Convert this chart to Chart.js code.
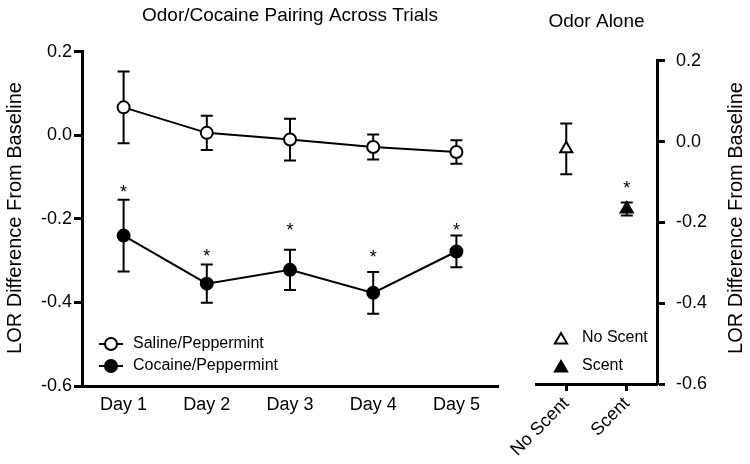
<!DOCTYPE html>
<html>
<head>
<meta charset="utf-8">
<script src="https://cdn.jsdelivr.net/npm/chart.js@4/dist/chart.umd.min.js"></script>
<style>
  body { margin: 0; background: #fff; }
  #wrap { position: relative; width: 750px; height: 464px; }
  .box { position: absolute; top: 0; height: 464px; }
</style>
</head>
<body>
<div id="wrap">
  <div class="box" style="left:0;width:520px"><canvas id="trialsChart" width="520" height="464"></canvas></div>
  <div class="box" style="left:500px;width:250px"><canvas id="odorChart" width="250" height="464"></canvas></div>
</div>
<script>
Chart.defaults.font.family = "'Liberation Sans', Arial, Helvetica, sans-serif";
Chart.defaults.color = '#000';

// data
const days = ['Day 1', 'Day 2', 'Day 3', 'Day 4', 'Day 5'];
const salineMean = [0.067, 0.006, -0.010, -0.028, -0.040];
const salineSem = [0.086, 0.041, 0.050, 0.030, 0.028];
const cocaineMean = [-0.240, -0.355, -0.322, -0.377, -0.278];
const cocaineSem = [0.086, 0.046, 0.048, 0.050, 0.038];
const cocaineStars = [-0.125, -0.280, -0.218, -0.281, -0.217];

const odorGroups = ['No Scent', 'Scent'];
const odorMean = [-0.018, -0.167];
const odorSem = [0.063, 0.016];
const odorStars = [null, -0.104];

const yTicks = [-0.6, -0.4, -0.2, 0.0, 0.2];

function tickLabel(v) {
    return Math.abs(v) < 1e-9 ? '0.0' : v.toFixed(1);
}

const errorBars = {
    id: 'errorBars',
    beforeDatasetsDraw(chart) {
        const ctx = chart.ctx;
        const y = chart.scales.y;
        chart.data.datasets.forEach((ds, i) => {
            chart.getDatasetMeta(i).data.forEach((pt, j) => {
                const v = ds.data[j];
                if (v == null) return;
                const hi = y.getPixelForValue(v + ds.errors[j]);
                const lo = y.getPixelForValue(v - ds.errors[j]);
                ctx.save();
                ctx.strokeStyle = '#000';
                ctx.lineWidth = 2;
                ctx.beginPath();
                ctx.moveTo(pt.x, hi); ctx.lineTo(pt.x, lo);
                ctx.moveTo(pt.x - 6, hi); ctx.lineTo(pt.x + 6, hi);
                ctx.moveTo(pt.x - 6, lo); ctx.lineTo(pt.x + 6, lo);
                ctx.stroke();
                ctx.restore();
            });
        });
    },
    afterDatasetsDraw(chart) {
        // significance asterisks
        const ctx = chart.ctx;
        const y = chart.scales.y;
        ctx.save();
        ctx.fillStyle = '#000';
        ctx.font = "18px 'Liberation Sans', Arial, sans-serif";
        ctx.textAlign = 'center';
        ctx.textBaseline = 'alphabetic';
        chart.data.datasets.forEach((ds, i) => {
            if (!ds.stars) return;
            chart.getDatasetMeta(i).data.forEach((pt, j) => {
                if (ds.stars[j] == null) return;
                ctx.fillText('*', pt.x, y.getPixelForValue(ds.stars[j]) + 10);
            });
        });
        ctx.restore();
    }
};

// rotated y title, always reading bottom to top
const sideTitle = {
    id: 'sideTitle',
    afterDraw(chart, args, opts) {
        const ctx = chart.ctx;
        ctx.save();
        ctx.translate(opts.x, opts.y);
        ctx.rotate(-Math.PI / 2);
        ctx.fillStyle = '#000';
        ctx.font = "20px 'Liberation Sans', Arial, sans-serif";
        ctx.textAlign = 'center';
        ctx.textBaseline = 'middle';
        ctx.fillText(opts.text, 0, 0);
        ctx.restore();
    }
};

const keyBox = {
    id: 'keyBox',
    afterDraw(chart, args, opts) {
        const ctx = chart.ctx;
        const a = chart.chartArea;
        ctx.save();
        chart.data.datasets.forEach((ds, k) => {
            const x = a.left + opts.dx;
            const y = a.bottom - opts.dy + k * opts.gap;
            ctx.strokeStyle = '#000';
            ctx.lineWidth = 2;
            if (opts.line) {
                ctx.beginPath();
                ctx.moveTo(x - 12, y); ctx.lineTo(x + 12, y);
                ctx.stroke();
            }
            ctx.fillStyle = ds.pointBackgroundColor;
            Chart.helpers.drawPoint(ctx, {
                pointStyle: ds.pointStyle, radius: ds.pointRadius,
                borderWidth: 2, rotation: 0
            }, x, y + opts.markDy);
            ctx.fillStyle = '#000';
            ctx.font = "16px 'Liberation Sans', Arial, sans-serif";
            ctx.textAlign = 'left';
            ctx.textBaseline = 'middle';
            ctx.fillText(ds.label, x + opts.textDx, y);
        });
        ctx.restore();
    }
};

const yAxisBase = {
    min: -0.6,
    max: 0.2,
    afterBuildTicks(s) { s.ticks = yTicks.map(v => ({ value: v })); },
    grid: { drawOnChartArea: false, tickLength: 8, tickWidth: 3, tickColor: '#000' },
    border: { color: '#000', width: 3 },
};

const trialsChart = new Chart(
    document.getElementById('trialsChart'),
    {
        type: 'line',
        data: {
            labels: days,
            datasets: [
                {
                    label: 'Saline/Peppermint',
                    data: salineMean,
                    errors: salineSem,
                    borderColor: '#000',
                    borderWidth: 2,
                    pointStyle: 'circle',
                    pointRadius: 6,
                    pointBorderWidth: 2,
                    pointBorderColor: '#000',
                    pointBackgroundColor: '#fff',
                },
                {
                    label: 'Cocaine/Peppermint',
                    data: cocaineMean,
                    errors: cocaineSem,
                    stars: cocaineStars,
                    borderColor: '#000',
                    borderWidth: 2,
                    pointStyle: 'circle',
                    pointRadius: 6,
                    pointBorderWidth: 2,
                    pointBorderColor: '#000',
                    pointBackgroundColor: '#000',
                },
            ]
        },
        options: {
            responsive: false,
            animation: false,
            layout: { padding: { left: 0, right: 22, top: 0, bottom: 0 } },
            plugins: {
                legend: { display: false },
                tooltip: { enabled: false },
                title: {
                    display: true,
                    text: 'Odor/Cocaine Pairing Across Trials',
                    fullSize: false,
                    color: '#000',
                    font: { size: 19, weight: 'normal' },
                    padding: { top: 4, bottom: 25 }
                },
                sideTitle: { text: 'LOR Difference From Baseline', x: 15, y: 218 },
                keyBox: { dx: 29, dy: 42, gap: 22, line: true, textDx: 22, markDy: 0 }
            },
            scales: {
                x: {
                    offset: true,
                    grid: { display: false, drawTicks: false },
                    border: { display: true, color: '#000', width: 3 },
                    ticks: { font: { size: 18 }, padding: 8, maxRotation: 0 },
                    afterFit(s) { s.height = 78; }
                },
                y: Object.assign({}, yAxisBase, {
                    ticks: { font: { size: 18 }, padding: 2, callback: tickLabel },
                    afterFit(s) { s.width = 82; }
                })
            }
        },
        plugins: [errorBars, sideTitle, keyBox]
    }
);

const odorChart = new Chart(
    document.getElementById('odorChart'),
    {
        type: 'line',
        data: {
            labels: odorGroups,
            datasets: [
                {
                    label: 'No Scent',
                    data: [odorMean[0], null],
                    errors: [odorSem[0], null],
                    showLine: false,
                    pointStyle: 'triangle',
                    pointRadius: 7,
                    pointBorderWidth: 2,
                    pointBorderColor: '#000',
                    pointBackgroundColor: '#fff',
                },
                {
                    label: 'Scent',
                    data: [null, odorMean[1]],
                    errors: [null, odorSem[1]],
                    stars: odorStars,
                    showLine: false,
                    pointStyle: 'triangle',
                    pointRadius: 7,
                    pointBorderWidth: 2,
                    pointBorderColor: '#000',
                    pointBackgroundColor: '#000',
                },
            ]
        },
        options: {
            responsive: false,
            animation: false,
            layout: { padding: { left: 36, right: 0, top: 0, bottom: 0 } },
            plugins: {
                legend: { display: false },
                tooltip: { enabled: false },
                title: {
                    display: true,
                    text: 'Odor Alone',
                    fullSize: false,
                    color: '#000',
                    font: { size: 19, weight: 'normal' },
                    padding: { top: 10, bottom: 28 }
                },
                sideTitle: { text: 'LOR Difference From Baseline', x: 236, y: 218 },
                keyBox: { dx: 25, dy: 46, gap: 28, line: false, textDx: 21, markDy: 2 }
            },
            scales: {
                x: {
                    offset: true,
                    grid: { drawOnChartArea: false, tickLength: 7, tickWidth: 3, tickColor: '#000' },
                    border: { display: true, color: '#000', width: 3 },
                    ticks: { font: { size: 18 }, padding: 2, minRotation: 45, maxRotation: 45, autoSkip: false },
                    afterFit(s) { s.height = 80; }
                },
                y: Object.assign({}, yAxisBase, {
                    position: 'right',
                    ticks: { font: { size: 18 }, padding: 11, callback: tickLabel },
                    afterFit(s) { s.width = 93; }
                })
            }
        },
        plugins: [errorBars, sideTitle, keyBox]
    }
);
</script>
</body>
</html>
